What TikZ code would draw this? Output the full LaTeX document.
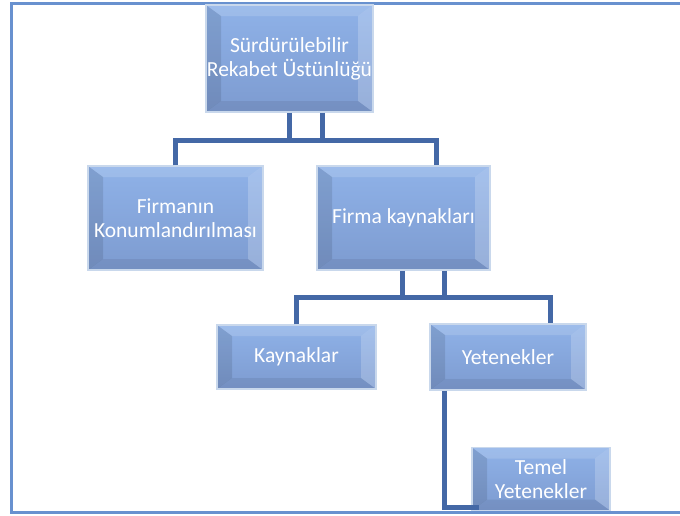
\documentclass[tikz,border=0pt]{standalone}
\usepackage{fontspec}
\setmainfont{Carlito}
\usepackage{tikz}
\usetikzlibrary{positioning,calc}
\definecolor{facetop}{HTML}{8FB2E8}
\definecolor{facebot}{HTML}{7D9BD0}
\definecolor{rim}{HTML}{C9D8EC}
\definecolor{linkblue}{HTML}{4468A6}
\definecolor{frameblue}{HTML}{6891CF}
\tikzset{
	bevel/.style = {path picture={
		\fill[white, opacity=0.14] (path picture bounding box.north west) -- (path picture bounding box.north east)
			-- ([xshift=-15pt,yshift=-11pt]path picture bounding box.north east) -- ([xshift=15pt,yshift=-11pt]path picture bounding box.north west) -- cycle;
		\fill[black, opacity=0.10] (path picture bounding box.north west) -- (path picture bounding box.south west)
			-- ([xshift=15pt,yshift=11pt]path picture bounding box.south west) -- ([xshift=15pt,yshift=-11pt]path picture bounding box.north west) -- cycle;
		\fill[white, opacity=0.20] (path picture bounding box.north east) -- (path picture bounding box.south east)
			-- ([xshift=-15pt,yshift=11pt]path picture bounding box.south east) -- ([xshift=-15pt,yshift=-11pt]path picture bounding box.north east) -- cycle;
		\fill[black, opacity=0.07] (path picture bounding box.south west) -- (path picture bounding box.south east)
			-- ([xshift=-15pt,yshift=11pt]path picture bounding box.south east) -- ([xshift=15pt,yshift=11pt]path picture bounding box.south west) -- cycle;
	}},
	block/.style = {draw=rim, line width=1.5pt, top color=facetop, bottom color=facebot, rectangle, bevel,
		text=white, align=center, inner sep=0pt, font=\fontsize{21.5}{24}\selectfont},
	link/.style = {draw=linkblue, line width=5pt},
	frame/.style = {draw=frameblue, line width=3pt}
}

\begin{document}
\begin{tikzpicture}[auto,x=1pt,y=-1pt]
	\useasboundingbox (0,0) rectangle (680,515);
	\draw [frame] (680,3) -- (11,3) -- (11,512) -- (680,512);

	\node [block, minimum width=167pt, minimum height=107pt] (A) at (289.5,58.5) {Sürdürülebilir\\Rekabet Üstünlüğü};
	\node [block, minimum width=175pt, minimum height=104pt] (B) at (175.5,218) {Firmanın\\Konumlandırılması};
	\node [block, right of=B, node distance=228pt, minimum width=173pt, minimum height=104pt] (C) {Firma kaynakları};
	\node [block, minimum width=159pt, minimum height=64pt] (D) at (296.5,357) {Kaynaklar};
	\node [block, right of=D, node distance=211.5pt, minimum width=156pt, minimum height=66pt] (E) {Yetenekler};
	\node [block, minimum width=138pt, minimum height=63pt] (F) at (541,479) {Temel\\Yetenekler};

	\coordinate (bus1) at (0,140);
	\coordinate (bus2) at (0,297);
	\draw [link] (A.south) -- (A.south |- bus1);
	\draw [link] ([xshift=33pt]A.south) -- ([xshift=33pt]A.south |- bus1);
	\draw [link] (B.north) |- ([xshift=32.5pt]C.north |- bus1) -- ([xshift=32.5pt]C.north);
	\draw [link] ([xshift=-1.5pt]C.south) -- ([xshift=-1.5pt]C.south |- bus2);
	\draw [link] ([xshift=40.5pt]C.south) -- ([xshift=40.5pt]C.south |- bus2);
	\draw [link] (D.north) |- ([xshift=42pt]E.north |- bus2) -- ([xshift=42pt]E.north);
	\draw [link] ([xshift=-64pt]E.south) |- ([xshift=8pt,yshift=4pt]F.south west);
\end{tikzpicture}
\end{document}
